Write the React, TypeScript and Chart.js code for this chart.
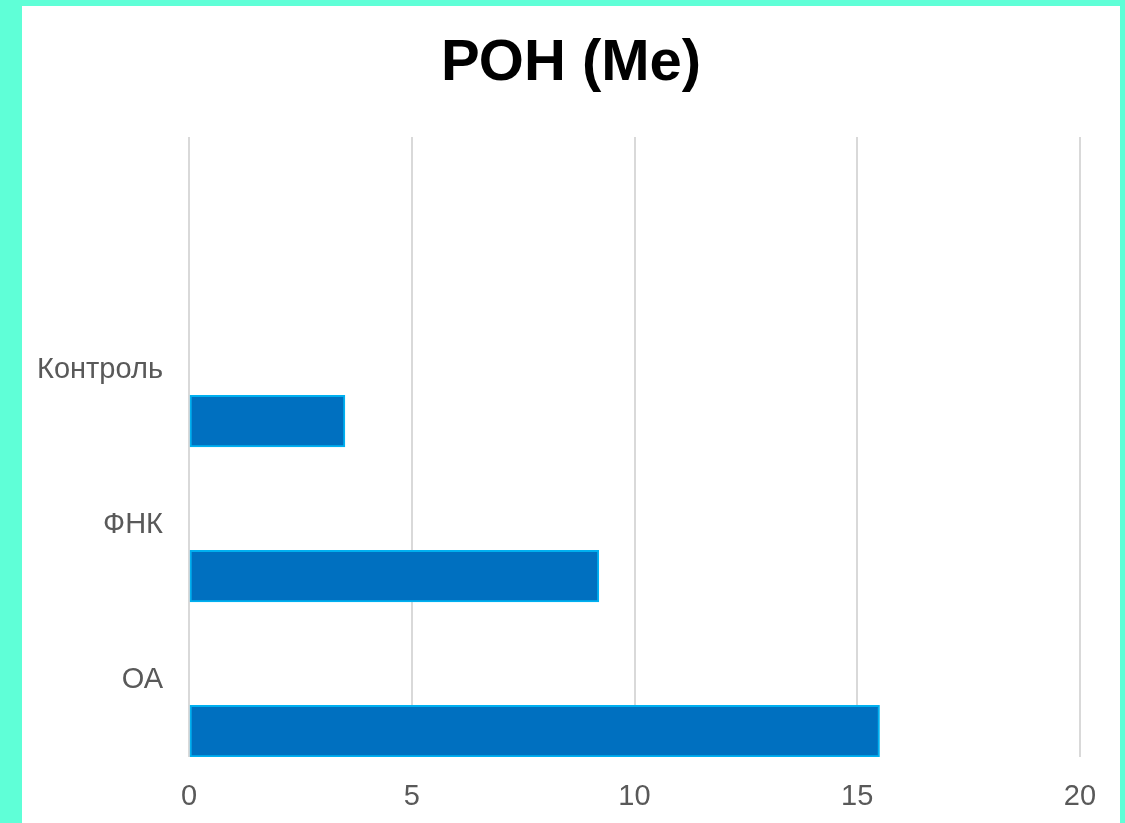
import React, { useEffect, useRef } from "react";
import { Chart, registerables } from "chart.js";

Chart.register(...registerables);

// Category rows (the first row is an empty spacer row above the groups)
const categories: string[] = ["", "Контроль", "ФНК", "ОА"];
// РОН median values per group
const ronValues: (number | null)[] = [null, 3.5, 9.2, 15.5];
// Two empty series that occupy the upper part of each row
const emptySeriesA: (number | null)[] = [null, null, null, null];
const emptySeriesB: (number | null)[] = [null, null, null, null];
// Value axis ticks
const xTicks: number[] = [0, 5, 10, 15, 20];

const TITLE = "РОН (Ме)";
const FONT = "'Liberation Sans', Arial, sans-serif";

// Draws the heading centred over the chart panel
const titlePlugin = {
  id: "panelTitle",
  afterDraw(chart: any) {
    const ctx = chart.ctx;
    ctx.save();
    ctx.font = `bold 58px ${FONT}`;
    ctx.fillStyle = "#000000";
    ctx.textAlign = "center";
    ctx.textBaseline = "alphabetic";
    ctx.fillText(TITLE, 571, 80);
    ctx.restore();
  },
};

export default function App() {
  const canvasRef = useRef<HTMLCanvasElement | null>(null);

  useEffect(() => {
    document.body.style.margin = "0";
    const canvas = canvasRef.current;
    if (!canvas) return;
    const chart = new Chart(canvas, {
      type: "bar",
      data: {
        labels: categories,
        datasets: [
          { label: "a", data: emptySeriesA, backgroundColor: "#0070C0" },
          { label: "b", data: emptySeriesB, backgroundColor: "#0070C0" },
          {
            label: "РОН",
            data: ronValues,
            backgroundColor: "#0070C0",
            borderColor: "#00B0F0",
            borderWidth: 2,
            borderSkipped: false,
          },
        ],
      },
      options: {
        indexAxis: "y",
        responsive: false,
        animation: false,
        layout: { padding: { left: 0, right: 45, top: 137, bottom: 0 } },
        datasets: {
          bar: { categoryPercentage: 1, barPercentage: 1 },
        },
        plugins: {
          legend: { display: false },
          tooltip: { enabled: false },
          title: { display: false },
        },
        scales: {
          x: {
            min: 0,
            max: 20,
            afterBuildTicks: (scale: any) => {
              scale.ticks = xTicks.map((v) => ({ value: v }));
            },
            grid: { color: "#D9D9D9", lineWidth: 2, drawTicks: false },
            border: { display: false },
            ticks: {
              color: "#595959",
              font: { family: FONT, size: 29 },
              padding: 23,
            },
            afterFit: (scale: any) => {
              scale.height = 66;
            },
          },
          y: {
            grid: { display: false, drawTicks: false },
            border: { display: false },
            ticks: {
              color: "#595959",
              font: { family: FONT, size: 29 },
              padding: 26,
            },
            afterFit: (scale: any) => {
              scale.width = 189;
            },
          },
        },
      },
      plugins: [titlePlugin],
    });
    return () => chart.destroy();
  }, []);

  return (
    <div
      style={{
        position: "fixed",
        left: 0,
        top: 0,
        width: 1125,
        height: 823,
        background: "#5FFFD7",
        overflow: "hidden",
      }}
    >
      <div
        style={{
          position: "absolute",
          left: 22,
          top: 6,
          width: 1098,
          height: 817,
          background: "#FFFFFF",
        }}
      />
      <canvas
        ref={canvasRef}
        width={1125}
        height={823}
        style={{ position: "absolute", left: 0, top: 0 }}
      />
    </div>
  );
}
